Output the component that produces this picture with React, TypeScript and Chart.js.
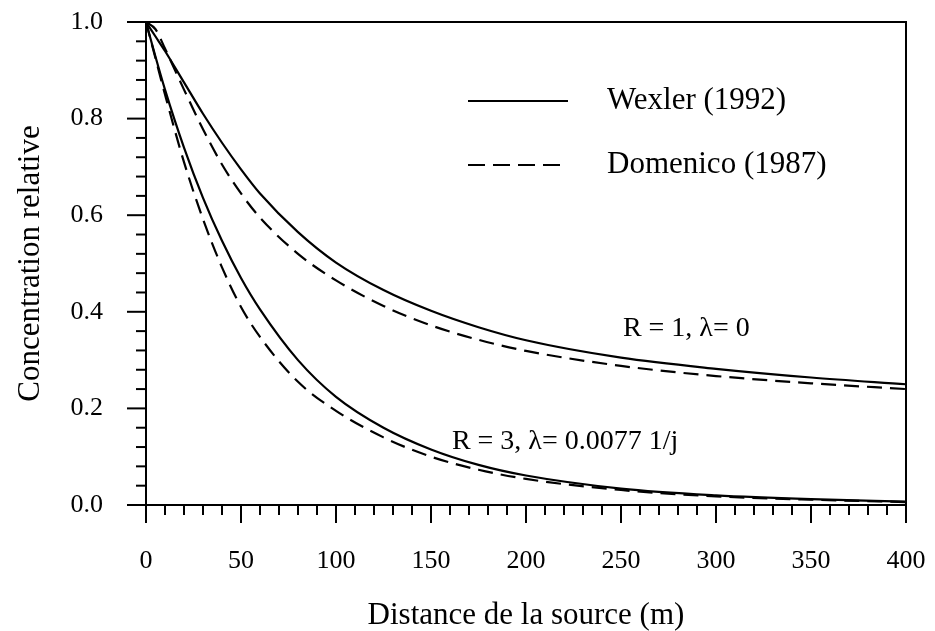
import React, { useEffect, useRef } from "react";
import { Chart, registerables } from "chart.js";

Chart.register(...registerables);

// Distance from the source (m)
const distances = [0, 5, 10, 20, 30, 40, 50, 60, 80, 100, 125, 150, 175, 200, 250, 300, 350, 400];

// Relative concentration
const wexlerR1 = [1.0, 0.97, 0.94, 0.875, 0.81, 0.75, 0.695, 0.645, 0.565, 0.502, 0.445, 0.402, 0.368, 0.341, 0.305, 0.282, 0.264, 0.25];
const domenicoR1 = [1.0, 0.985, 0.945, 0.86, 0.778, 0.705, 0.645, 0.595, 0.52, 0.465, 0.412, 0.372, 0.342, 0.319, 0.288, 0.267, 0.252, 0.24];
const wexlerR3 = [1.0, 0.928, 0.86, 0.74, 0.636, 0.547, 0.47, 0.405, 0.3, 0.224, 0.16, 0.115, 0.083, 0.061, 0.034, 0.02, 0.012, 0.007];
const domenicoR3 = [1.0, 0.925, 0.85, 0.71, 0.592, 0.492, 0.41, 0.348, 0.255, 0.195, 0.14, 0.1, 0.073, 0.054, 0.031, 0.018, 0.011, 0.006];

const xTickValues = [0, 50, 100, 150, 200, 250, 300, 350, 400];
const yTickValues = [0, 0.2, 0.4, 0.6, 0.8, 1.0];

const legendLabels = ["Wexler (1992)", "Domenico (1987)"];
const curveLabels = ["R = 1, λ= 0", "R = 3, λ= 0.0077 1/j"];
// where the curve labels sit, in data units (x, y at text baseline)
const curveLabelAnchors = [
  [251, 0.35],
  [161, 0.116],
];

const FAMILY = "'Liberation Serif', 'Times New Roman', serif";
const DASH = [15, 8];

function toPoints(ys: number[]) {
  return distances.map((x, i) => ({ x, y: ys[i] }));
}

function zeroPadding(s: any) {
  s.paddingTop = 0;
  s.paddingBottom = 0;
  s.paddingLeft = 0;
  s.paddingRight = 0;
}

const decorPlugin = {
  id: "decor",
  afterDraw(chart: any) {
    const { ctx, chartArea: a, scales } = chart;
    const xs = scales.x;
    const ys = scales.y;
    ctx.save();
    ctx.strokeStyle = "#000";
    ctx.fillStyle = "#000";
    ctx.lineWidth = 2;
    ctx.setLineDash([]);
    // frame
    ctx.strokeRect(a.left, a.top, a.right - a.left, a.bottom - a.top);
    // y ticks (major 0.2, minor 0.04)
    for (let i = 0; i <= 25; i++) {
      const py = ys.getPixelForValue(i * 0.04);
      const len = i % 5 === 0 ? 19 : 10;
      ctx.beginPath();
      ctx.moveTo(a.left - len, py);
      ctx.lineTo(a.left, py);
      ctx.stroke();
    }
    // x ticks (major 50, minor 10)
    for (let i = 0; i <= 40; i++) {
      const px = xs.getPixelForValue(i * 10);
      const len = i % 5 === 0 ? 18 : 10;
      ctx.beginPath();
      ctx.moveTo(px, a.bottom);
      ctx.lineTo(px, a.bottom + len);
      ctx.stroke();
    }
    // legend
    const legY = [101, 165];
    ctx.font = `31px ${FAMILY}`;
    ctx.textBaseline = "middle";
    ctx.textAlign = "left";
    legendLabels.forEach((label, i) => {
      ctx.setLineDash(i === 0 ? [] : [17, 8]);
      ctx.beginPath();
      ctx.moveTo(468, legY[i]);
      ctx.lineTo(568, legY[i]);
      ctx.stroke();
      ctx.fillText(label, 607, legY[i]);
    });
    ctx.setLineDash([]);
    // curve labels
    ctx.font = `28px ${FAMILY}`;
    ctx.textBaseline = "alphabetic";
    curveLabels.forEach((label, i) => {
      const [vx, vy] = curveLabelAnchors[i];
      ctx.fillText(label, xs.getPixelForValue(vx), ys.getPixelForValue(vy));
    });
    ctx.restore();
  },
};

export default function App() {
  const ref = useRef<HTMLCanvasElement | null>(null);

  useEffect(() => {
    if (!ref.current) return;
    const lineDs = (label: string, ys: number[], dashed: boolean) => ({
      label,
      data: toPoints(ys),
      borderColor: "#000",
      borderWidth: 2.2,
      borderDash: dashed ? DASH : [],
      pointRadius: 0,
      fill: false,
      showLine: true,
      cubicInterpolationMode: "monotone" as const,
    });
    const chart = new Chart(ref.current, {
      type: "scatter",
      data: {
        datasets: [
          lineDs("Wexler R=1", wexlerR1, false),
          lineDs("Domenico R=1", domenicoR1, true),
          lineDs("Wexler R=3", wexlerR3, false),
          lineDs("Domenico R=3", domenicoR3, true),
        ],
      },
      options: {
        responsive: false,
        animation: false,
        layout: { padding: { top: 22, right: 29, left: 0, bottom: 0 } },
        plugins: { legend: { display: false }, tooltip: { enabled: false } },
        scales: {
          x: {
            type: "linear",
            min: 0,
            max: 400,
            afterFit: (s: any) => {
              s.height = 126;
              zeroPadding(s);
            },
            afterBuildTicks: (s: any) => {
              s.ticks = xTickValues.map((v) => ({ value: v }));
            },
            grid: { display: false, drawTicks: false },
            border: { display: false },
            ticks: {
              color: "#000",
              font: { family: FAMILY, size: 26 },
              padding: 41,
              maxRotation: 0,
              autoSkip: false,
            },
            title: {
              display: true,
              text: "Distance de la source (m)",
              color: "#000",
              font: { family: FAMILY, size: 31, lineHeight: 1.0 },
              padding: 0,
            },
          },
          y: {
            type: "linear",
            min: 0,
            max: 1,
            afterFit: (s: any) => {
              s.width = 146;
              zeroPadding(s);
            },
            afterBuildTicks: (s: any) => {
              s.ticks = yTickValues.map((v) => ({ value: v }));
            },
            grid: { display: false, drawTicks: false },
            border: { display: false },
            ticks: {
              color: "#000",
              font: { family: FAMILY, size: 26 },
              padding: 43,
              autoSkip: false,
              callback: (v: any) => Number(v).toFixed(1),
            },
            title: {
              display: true,
              text: "Concentration relative",
              color: "#000",
              font: { family: FAMILY, size: 31 },
              padding: 12,
            },
          },
        },
      },
      plugins: [decorPlugin],
    });
    return () => chart.destroy();
  }, []);

  return (
    <div style={{ position: "absolute", left: 0, top: 0, width: 935, height: 631, background: "#fff" }}>
      <canvas ref={ref} width={935} height={631} style={{ display: "block" }} />
    </div>
  );
}
